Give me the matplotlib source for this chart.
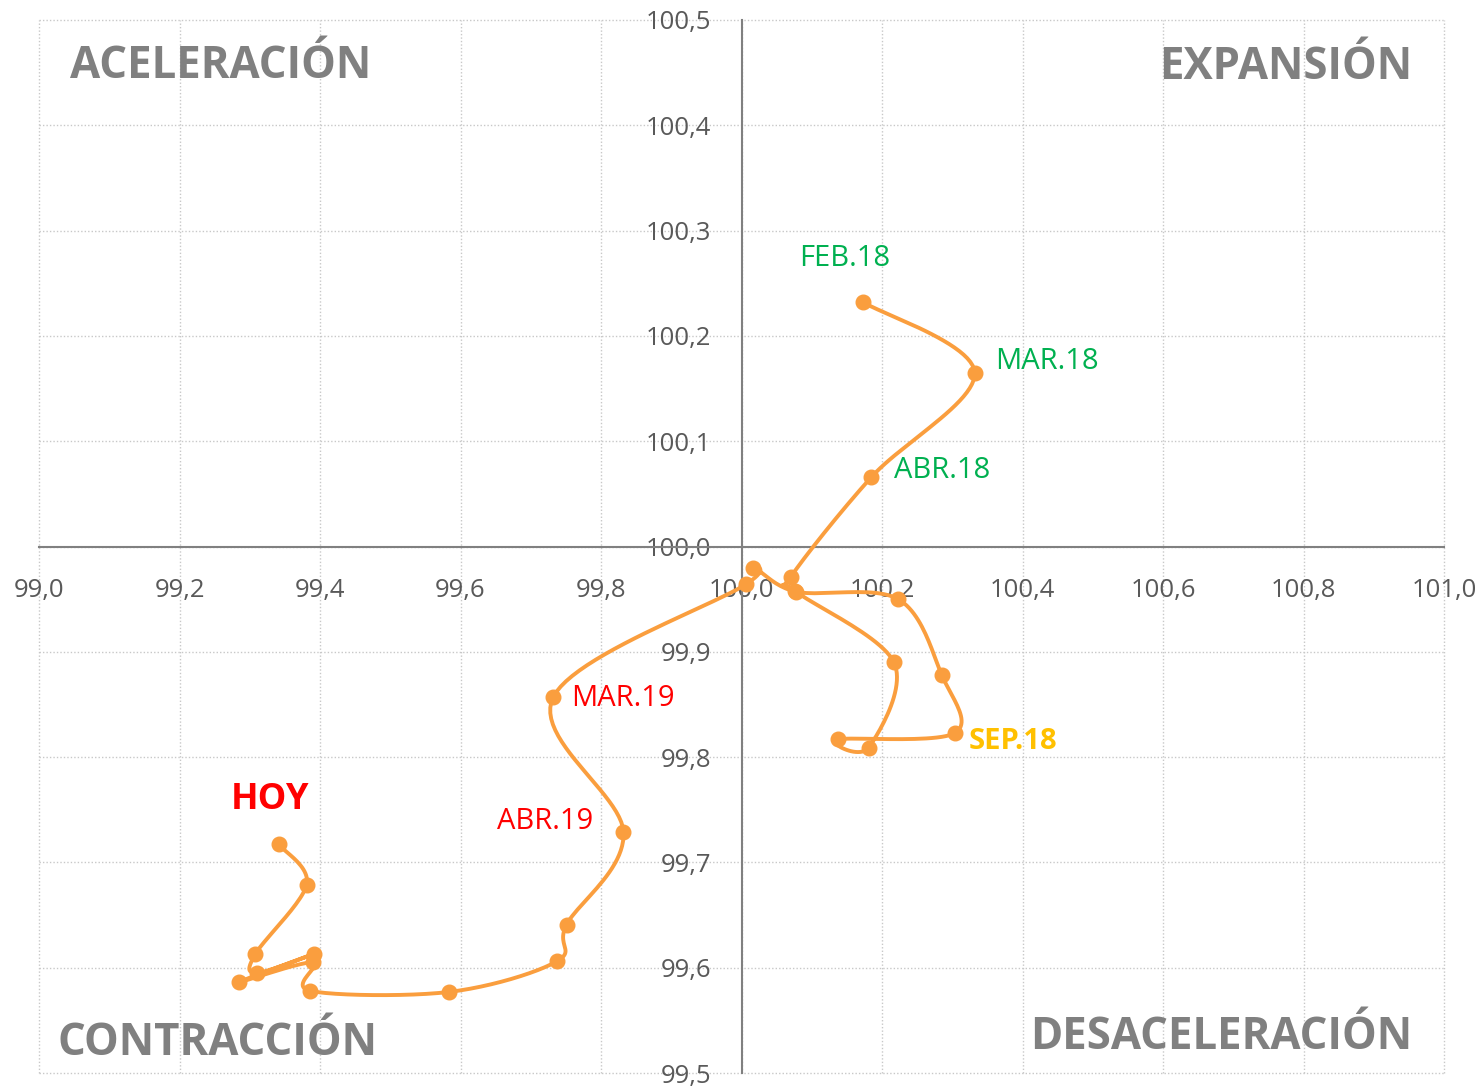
import matplotlib.pyplot as plt
import numpy as np

# ----------------------------
# Data
# ----------------------------

# trajectory points, in order (x = nivel, y = tendencia)
x_vals = [100.173, 100.332, 100.185, 100.070, 100.076, 100.217, 100.181, 100.138, 100.304,
          100.285, 100.223, 100.078, 100.016, 100.006, 99.732, 99.832, 99.751, 99.737,
          99.584, 99.386, 99.390, 99.284, 99.391, 99.310, 99.308, 99.381, 99.341]
y_vals = [100.232, 100.165, 100.066, 99.971, 99.958, 99.890, 99.809, 99.817, 99.823,
          99.878, 99.950, 99.957, 99.980, 99.964, 99.857, 99.729, 99.641, 99.606,
          99.577, 99.578, 99.605, 99.586, 99.613, 99.595, 99.613, 99.679, 99.717]

x_ticks = [99.0, 99.2, 99.4, 99.6, 99.8, 100.0, 100.2, 100.4, 100.6, 100.8, 101.0]
y_ticks = [99.5, 99.6, 99.7, 99.8, 99.9, 100.0, 100.1, 100.2, 100.3, 100.4, 100.5]

# point labels: index, text, color, bold, size, offset (px), ha
point_labels = [
    (0, 'FEB.18', '#00B050', False, 21, (-18, 44), 'center'),
    (1, 'MAR.18', '#00B050', False, 21, (20, 11), 'left'),
    (2, 'ABR.18', '#00B050', False, 21, (23, 7), 'left'),
    (8, 'SEP.18', '#FFC000', True, 21, (14, -9), 'left'),
    (14, 'MAR.19', '#FF0000', False, 21, (18, -1), 'left'),
    (15, 'ABR.19', '#FF0000', False, 21, (-30, 10), 'right'),
    (26, 'HOY', '#FF0000', True, 26, (-48, 44), 'left'),
]

quadrants = [
    ('ACELERACIÓN', 99.044, 100.456, 'left'),
    ('EXPANSIÓN', 100.955, 100.455, 'right'),
    ('CONTRACCIÓN', 99.027, 99.528, 'left'),
    ('DESACELERACIÓN', 100.955, 99.534, 'right'),
]

line_color = '#FA9E3E'
grey = '#808080'

plt.rcParams['font.family'] = ['Open Sans', 'DejaVu Sans']


def smooth_path(xs, ys, k=1.5, n=25):
    # Catmull-Rom curve through the points (y scaled so curvature looks even on screen)
    P = np.column_stack([xs, np.array(ys) * k])
    P = np.vstack([P[0], P, P[-1]])
    t = np.linspace(0, 1, n)[:, None]
    segs = []
    for i in range(1, len(P) - 2):
        p0, p1, p2, p3 = P[i - 1], P[i], P[i + 1], P[i + 2]
        seg = 0.5 * (2 * p1 + (-p0 + p2) * t + (2 * p0 - 5 * p1 + 4 * p2 - p3) * t ** 2
                     + (-p0 + 3 * p1 - 3 * p2 + p3) * t ** 3)
        segs.append(seg)
    S = np.vstack(segs)
    return S[:, 0], S[:, 1] / k


# ----------------------------
# Plot
# ----------------------------

fig = plt.figure(figsize=(14.75, 10.86), dpi=100)
ax = fig.add_axes([39 / 1475, 1 - 1073 / 1086, 1405 / 1475, 1053 / 1086])

ax.set_xlim(99.0, 101.0)
ax.set_ylim(99.5, 100.5)
ax.set_xticks(x_ticks)
ax.set_yticks(y_ticks)
ax.set_xticklabels([f'{v:.1f}'.replace('.', ',') for v in x_ticks])
ax.set_yticklabels([f'{v:.1f}'.replace('.', ',') for v in y_ticks])

# axes crossing at (100, 100)
ax.spines['left'].set_position(('data', 100.0))
ax.spines['bottom'].set_position(('data', 100.0))
ax.spines['top'].set_visible(False)
ax.spines['right'].set_visible(False)
for s in ['left', 'bottom']:
    ax.spines[s].set_color(grey)
    ax.spines[s].set_linewidth(1.5)

ax.tick_params(axis='both', length=0, labelsize=18.5, labelcolor='#595959')
ax.tick_params(axis='x', pad=23)
ax.tick_params(axis='y', pad=22)

ax.grid(True, color='#c8c8c8', linestyle=(0, (1, 1.5)), linewidth=1)
for gl in ax.get_xgridlines() + ax.get_ygridlines():
    gl.set_clip_on(False)
ax.set_axisbelow(True)

# trajectory
sx, sy = smooth_path(x_vals, y_vals)
ax.plot(sx, sy, color=line_color, linewidth=2.8, zorder=3, solid_capstyle='round')
ax.plot(x_vals, y_vals, linestyle='none', marker='o', markersize=10.5,
        color=line_color, zorder=4)

for idx, txt, col, bold, size, off, ha in point_labels:
    ax.annotate(txt, xy=(x_vals[idx], y_vals[idx]), xytext=off, textcoords='offset pixels',
                ha=ha, va='center', color=col, fontsize=size,
                fontweight='bold' if bold else 'normal', zorder=5)

for txt, qx, qy, ha in quadrants:
    ax.text(qx, qy, txt, ha=ha, va='center', fontsize=31.5, fontweight='bold', color=grey)

fig.savefig('out.png', dpi=100)
